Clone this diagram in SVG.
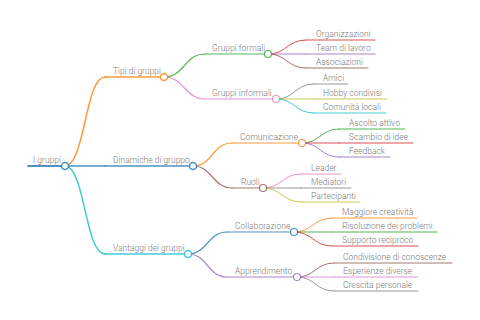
<svg xmlns="http://www.w3.org/2000/svg" width="480" height="320" viewBox="0 0 480 320">
<style>
text{font-family:Roboto,"Liberation Sans",sans-serif;font-size:8.5px;fill:#7a7a7a;font-weight:300}
path,line{fill:none;stroke-linecap:round}
circle{fill:#fff}
.d0{stroke-width:2}
.d1{stroke-width:1.5}
.d2{stroke-width:1.2}
.d3{stroke-width:1}
.c0{stroke:#1f77b4}.c1{stroke:#ff7f0e}.c2{stroke:#2ca02c}.c3{stroke:#d62728}.c4{stroke:#9467bd}
.c5{stroke:#8c564b}.c6{stroke:#e377c2}.c7{stroke:#7f7f7f}.c8{stroke:#bcbd22}.c9{stroke:#17becf}
g{stroke-opacity:0.8}
</style>
<rect width="480" height="320" fill="#fff"/>
<g id="connectors">
<path class="d1 c1" d="M65,166 C85,166 85,77 105,77"/>
<path class="d1 c0" d="M65,166 L105,166"/>
<path class="d1 c9" d="M65,166 C85,166 85,254 105,254"/>
<path class="d2 c2" d="M164,77 C184.5,77 184.5,54 205,54"/>
<path class="d2 c6" d="M164,77 C184.5,77 184.5,99 205,99"/>
<path class="d2 c1" d="M193,166 C212.5,166 212.5,143 232,143"/>
<path class="d2 c5" d="M193,166 C212.5,166 212.5,188 232,188"/>
<path class="d2 c0" d="M188,254 C207.5,254 207.5,232 227,232"/>
<path class="d2 c4" d="M188,254 C207.5,254 207.5,277 227,277"/>
<path class="d3 c3" d="M268,54 C287,54 287,40 306,40"/>
<path class="d3 c4" d="M268,54 L306,54"/>
<path class="d3 c5" d="M268,54 C287,54 287,68 306,68"/>
<path class="d3 c7" d="M276,99 C295,99 295,84 314,84"/>
<path class="d3 c8" d="M276,99 L314,99"/>
<path class="d3 c9" d="M276,99 C295,99 295,113 314,113"/>
<path class="d3 c2" d="M302,143 C320.5,143 320.5,129 339,129"/>
<path class="d3 c3" d="M302,143 L339,143"/>
<path class="d3 c4" d="M302,143 C320.5,143 320.5,157 339,157"/>
<path class="d3 c6" d="M263,188 C282,188 282,174 301,174"/>
<path class="d3 c7" d="M263,188 L301,188"/>
<path class="d3 c8" d="M263,188 C282,188 282,202 301,202"/>
<path class="d3 c1" d="M294,232 C313,232 313,218 332,218"/>
<path class="d3 c2" d="M294,232 L332,232"/>
<path class="d3 c3" d="M294,232 C313,232 313,246 332,246"/>
<path class="d3 c5" d="M297,277 C315.5,277 315.5,263 334,263"/>
<path class="d3 c6" d="M297,277 L334,277"/>
<path class="d3 c7" d="M297,277 C315.5,277 315.5,291 334,291"/>
</g>
<g id="n-root"><line class="d0 c0" x1="28" y1="166" x2="65" y2="166"/><circle class="d1 c0" cx="65" cy="166" r="3.5"/><text x="33" y="163">I gruppi</text></g>
<g id="n-tipi"><line class="d1 c1" x1="105" y1="77" x2="164" y2="77"/><circle class="d1 c1" cx="164" cy="77" r="3.5"/><text x="113" y="74">Tipi di gruppi</text></g>
<g id="n-dinamiche"><line class="d1 c0" x1="105" y1="166" x2="193" y2="166"/><circle class="d1 c0" cx="193" cy="166" r="3.5"/><text x="113" y="163">Dinamiche di gruppo</text></g>
<g id="n-vantaggi"><line class="d1 c9" x1="105" y1="254" x2="188" y2="254"/><circle class="d1 c9" cx="188" cy="254" r="3.5"/><text x="113" y="251">Vantaggi dei gruppi</text></g>
<g id="n-formali"><line class="d2 c2" x1="205" y1="54" x2="268" y2="54"/><circle class="d2 c2" cx="268" cy="54" r="3.5"/><text x="212" y="51">Gruppi formali</text></g>
<g id="n-informali"><line class="d2 c6" x1="205" y1="99" x2="276" y2="99"/><circle class="d2 c6" cx="276" cy="99" r="3.5"/><text x="212" y="96">Gruppi informali</text></g>
<g id="n-comunicazione"><line class="d2 c1" x1="232" y1="143" x2="302" y2="143"/><circle class="d2 c1" cx="302" cy="143" r="3.5"/><text x="240" y="140">Comunicazione</text></g>
<g id="n-ruoli"><line class="d2 c5" x1="232" y1="188" x2="263" y2="188"/><circle class="d2 c5" cx="263" cy="188" r="3.5"/><text x="241" y="185">Ruoli</text></g>
<g id="n-collaborazione"><line class="d2 c0" x1="227" y1="232" x2="294" y2="232"/><circle class="d2 c0" cx="294" cy="232" r="3.5"/><text x="235" y="229">Collaborazione</text></g>
<g id="n-apprendimento"><line class="d2 c4" x1="227" y1="277" x2="297" y2="277"/><circle class="d2 c4" cx="297" cy="277" r="3.5"/><text x="235" y="274">Apprendimento</text></g>
<g id="n-organizzazioni"><line class="d3 c3" x1="306" y1="40" x2="375" y2="40"/><text x="316" y="37">Organizzazioni</text></g>
<g id="n-team"><line class="d3 c4" x1="306" y1="54" x2="375" y2="54"/><text x="316" y="51">Team di lavoro</text></g>
<g id="n-associazioni"><line class="d3 c5" x1="306" y1="68" x2="368" y2="68"/><text x="316" y="65">Associazioni</text></g>
<g id="n-amici"><line class="d3 c7" x1="314" y1="84" x2="348" y2="84"/><text x="323" y="81">Amici</text></g>
<g id="n-hobby"><line class="d3 c8" x1="314" y1="99" x2="387" y2="99"/><text x="323" y="96">Hobby condivisi</text></g>
<g id="n-comunita"><line class="d3 c9" x1="314" y1="113" x2="386" y2="113"/><text x="323" y="110">Comunità locali</text></g>
<g id="n-ascolto"><line class="d3 c2" x1="339" y1="129" x2="405" y2="129"/><text x="349" y="126">Ascolto attivo</text></g>
<g id="n-scambio"><line class="d3 c3" x1="339" y1="143" x2="413" y2="143"/><text x="349" y="140">Scambio di idee</text></g>
<g id="n-feedback"><line class="d3 c4" x1="339" y1="157" x2="390" y2="157"/><text x="349" y="154">Feedback</text></g>
<g id="n-leader"><line class="d3 c6" x1="301" y1="174" x2="341" y2="174"/><text x="311" y="171">Leader</text></g>
<g id="n-mediatori"><line class="d3 c7" x1="301" y1="188" x2="351" y2="188"/><text x="311" y="185">Mediatori</text></g>
<g id="n-partecipanti"><line class="d3 c8" x1="301" y1="202" x2="360" y2="202"/><text x="311" y="199">Partecipanti</text></g>
<g id="n-creativita"><line class="d3 c1" x1="332" y1="218" x2="417" y2="218"/><text x="342" y="215">Maggiore creatività</text></g>
<g id="n-risoluzione"><line class="d3 c2" x1="332" y1="232" x2="437" y2="232"/><text x="342" y="229">Risoluzione dei problemi</text></g>
<g id="n-supporto"><line class="d3 c3" x1="332" y1="246" x2="418" y2="246"/><text x="342" y="243">Supporto reciproco</text></g>
<g id="n-condivisione"><line class="d3 c5" x1="334" y1="263" x2="452" y2="263"/><text x="343" y="260">Condivisione di conoscenze</text></g>
<g id="n-esperienze"><line class="d3 c6" x1="334" y1="277" x2="418" y2="277"/><text x="343" y="274">Esperienze diverse</text></g>
<g id="n-crescita"><line class="d3 c7" x1="334" y1="291" x2="418" y2="291"/><text x="343" y="288">Crescita personale</text></g>
</svg>
